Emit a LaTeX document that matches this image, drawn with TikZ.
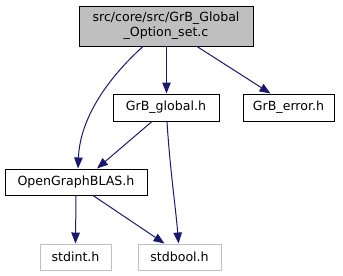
\documentclass[tikz,border=0pt]{standalone}
\usepackage{fontspec}
\setmainfont{DejaVu Sans}
\usetikzlibrary{arrows.meta}
\definecolor{edgeblue}{HTML}{191970}
\definecolor{rootfill}{HTML}{BFBFBF}
\definecolor{extgray}{HTML}{BFBFBF}
\tikzset{
  filebox/.style={draw=black, line width=0.95pt, inner sep=0pt, font=\fontsize{12.6}{15}\selectfont},
  rootbox/.style={filebox, fill=rootfill, align=center},
  extbox/.style={filebox, draw=extgray},
  dep/.style={draw=edgeblue, line width=1pt, -{Triangle[length=11pt,width=8.5pt]}}
}
\begin{document}
\begin{tikzpicture}[x=1pt,y=-1pt]
\useasboundingbox (0,0) rectangle (343,276);
% root file
\node[rootbox, minimum width=174pt, minimum height=40pt] (root) at (166,26)
  {src/core/src/GrB\_Global\\\_Option\_set.c};
% included headers
\node[filebox, minimum width=106pt, minimum height=27pt] (glob) at (166,107.5) {GrB\_global.h};
\node[filebox, minimum width=91pt, minimum height=27pt] (err) at (288.5,107.5) {GrB\_error.h};
\node[filebox, minimum width=142pt, minimum height=26pt] (ogb) at (76,182) {OpenGraphBLAS.h};
\node[extbox, minimum width=71pt, minimum height=26pt] (sint) at (75.5,257) {stdint.h};
\node[extbox, minimum width=83pt, minimum height=26pt] (sbool) at (179.5,257) {stdbool.h};
% dependencies
\draw[dep] ([xshift=-23pt]root.south) .. controls (108,78) and (80,118) .. ([xshift=2pt]ogb.north);
\draw[dep] ([xshift=0.5pt]root.south) -- ([xshift=0.5pt]glob.north);
\draw[dep] ([xshift=31pt]root.south) -- ([xshift=-18pt]err.north);
\draw[dep] ([xshift=-14pt]glob.south) -- ([xshift=21pt]ogb.north);
\draw[dep] ([xshift=1pt]glob.south) .. controls (170,170) and (176,210) .. ([xshift=-1pt]sbool.north);
\draw[dep] (ogb.south) -- (sint.north);
\draw[dep] ([xshift=17pt]ogb.south) -- ([xshift=-15pt]sbool.north);
\end{tikzpicture}
\end{document}
